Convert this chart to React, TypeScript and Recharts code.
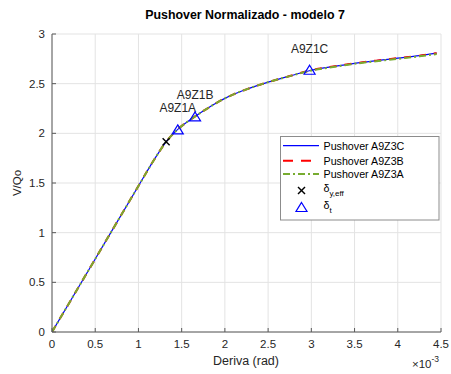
import React from 'react';
import { ComposedChart, Line, Scatter, XAxis, YAxis, CartesianGrid, Customized } from 'recharts';

// Drift (×10^-3 rad)
const drift = [0, 0.5, 1.0, 1.2, 1.32, 1.455, 1.655, 1.8, 1.9, 2.0, 2.1, 2.25, 2.5, 2.75, 3.0, 3.25, 3.5, 3.75, 4.0, 4.25, 4.45];
// V/Qo per model
const vA9Z3C = [0, 0.735, 1.47, 1.76, 1.915, 2.04, 2.17, 2.252, 2.305, 2.352, 2.393, 2.443, 2.515, 2.577, 2.635, 2.672, 2.705, 2.732, 2.757, 2.782, 2.807];
const vA9Z3B = [0, 0.735, 1.47, 1.76, 1.915, 2.04, 2.17, 2.252, 2.305, 2.352, 2.393, 2.443, 2.515, 2.577, 2.635, 2.672, 2.705, 2.732, 2.757, 2.782, 2.807];
const vA9Z3A = [0, 0.735, 1.47, 1.76, 1.915, 2.04, 2.17, 2.252, 2.305, 2.352, 2.393, 2.443, 2.515, 2.576, 2.632, 2.668, 2.700, 2.726, 2.750, 2.775, 2.798];

// Effective yield point
const yieldX = [1.32];
const yieldY = [1.915];
// Target displacement points
const targetLabels = ['A9Z1A', 'A9Z1B', 'A9Z1C'];
const targetX = [1.455, 1.655, 2.98];
const targetY = [2.04, 2.17, 2.64];

const xTicks = [0, 0.5, 1, 1.5, 2, 2.5, 3, 3.5, 4, 4.5];
const yTicks = [0, 0.5, 1, 1.5, 2, 2.5, 3];

const seriesC = drift.map((x, i) => ({ x, y: vA9Z3C[i] }));
const seriesB = drift.map((x, i) => ({ x, y: vA9Z3B[i] }));
const seriesA = drift.map((x, i) => ({ x, y: vA9Z3A[i] }));
const yieldData = yieldX.map((x, i) => ({ x, y: yieldY[i] }));
const targetData = targetX.map((x, i) => ({ x, y: targetY[i], label: targetLabels[i] }));

const FONT = '"Liberation Sans", Arial, Helvetica, sans-serif';
const TXT = '#262626';
const GREEN = '#77AC30';
const DASH_GREEN = '7 3 2 3';
const DASH_RED = '7 8';

const Cross = (props: any) => {
  const { cx, cy } = props;
  if (cx == null || cy == null) return null;
  const s = 3.5;
  return (
    <g>
      <line x1={cx - s} y1={cy - s} x2={cx + s} y2={cy + s} stroke="#000" strokeWidth={1.4} />
      <line x1={cx - s} y1={cy + s} x2={cx + s} y2={cy - s} stroke="#000" strokeWidth={1.4} />
    </g>
  );
};

const Tri = (props: any) => {
  const { cx, cy, payload } = props;
  if (cx == null || cy == null) return null;
  const w = 5.5;
  const h = 4.5;
  return (
    <g>
      <polygon
        points={`${cx},${cy - h} ${cx + w},${cy + h} ${cx - w},${cy + h}`}
        fill="none"
        stroke="#0000FF"
        strokeWidth={1.2}
      />
      <text x={cx} y={cy - 21} textAnchor="middle" dominantBaseline="central" fontSize={12} fontFamily={FONT} fill={TXT}>
        {payload?.label}
      </text>
    </g>
  );
};

const Decorations = () => {
  const lx = 280.5;
  const ly = 136.5;
  const sx1 = 283;
  const sx2 = 319;
  const tx = 323.5;
  const rows = [145.7, 160.7, 174];
  return (
    <g fontFamily={FONT}>
      <text x={245} y={15} textAnchor="middle" dominantBaseline="central" fontSize={12.4} fontWeight="bold" fill="#000">
        Pushover Normalizado - modelo 7
      </text>
      <text x={246} y={361} textAnchor="middle" dominantBaseline="central" fontSize={12.5} fill={TXT}>
        Deriva (rad)
      </text>
      <text
        x={17}
        y={183}
        textAnchor="middle"
        dominantBaseline="central"
        fontSize={11.5}
        fill={TXT}
        transform="rotate(-90 17 183)"
      >
        V/Qo
      </text>
      <text x={412} y={368} fontSize={11.5} fill={TXT}>
        ×10<tspan dy={-6} fontSize={8.5}>-3</tspan>
      </text>
      {/* legend */}
      <rect x={lx} y={ly} width={158.5} height={83.5} fill="#fff" stroke="#8c8c8c" strokeWidth={1} />
      <line x1={sx1} y1={rows[0]} x2={sx2} y2={rows[0]} stroke="#0000FF" strokeWidth={1.2} />
      <line x1={sx1} y1={rows[1]} x2={sx2} y2={rows[1]} stroke="#FF0000" strokeWidth={2} strokeDasharray="10 8" />
      <line x1={sx1} y1={rows[2]} x2={sx2} y2={rows[2]} stroke={GREEN} strokeWidth={2} strokeDasharray={DASH_GREEN} />
      <text x={tx} y={rows[0]} dominantBaseline="central" fontSize={10.7} fill="#000">Pushover A9Z3C</text>
      <text x={tx} y={rows[1]} dominantBaseline="central" fontSize={10.7} fill="#000">Pushover A9Z3B</text>
      <text x={tx} y={rows[2]} dominantBaseline="central" fontSize={10.7} fill="#000">Pushover A9Z3A</text>
      <Cross cx={301.5} cy={190.5} />
      <text x={tx} y={188} dominantBaseline="central" fontSize={10.7} fill="#000">
        δ<tspan dy={5} fontSize={8}>y,eff</tspan>
      </text>
      <polygon points="301.5,202.5 307,211.5 296,211.5" fill="none" stroke="#0000FF" strokeWidth={1.2} />
      <text x={tx} y={205} dominantBaseline="central" fontSize={10.7} fill="#000">
        δ<tspan dy={5} fontSize={8}>t</tspan>
      </text>
    </g>
  );
};

export default function App() {
  return (
    <div style={{ position: 'absolute', left: 0, top: 0, width: 451, height: 374, background: '#fff' }}>
      <ComposedChart width={451} height={374} margin={{ top: 34, right: 10, bottom: 12, left: 12 }}>
        <CartesianGrid stroke="#e3e3e3" strokeWidth={1} />
        <XAxis
          type="number"
          dataKey="x"
          domain={[0, 4.5]}
          ticks={xTicks}
          interval={0}
          height={30}
          tickSize={-4}
          tickMargin={12}
          axisLine={{ stroke: '#5a5a5a' }}
          tickLine={{ stroke: '#5a5a5a' }}
          tick={{ fontSize: 11.5, fill: TXT, fontFamily: FONT }}
          allowDataOverflow
        />
        <YAxis
          type="number"
          dataKey="y"
          domain={[0, 3]}
          ticks={yTicks}
          interval={0}
          width={40}
          tickSize={-4}
          tickMargin={11}
          axisLine={{ stroke: '#5a5a5a' }}
          tickLine={{ stroke: '#5a5a5a' }}
          tick={{ fontSize: 11.5, fill: TXT, fontFamily: FONT }}
          allowDataOverflow
        />
        <Line data={seriesC} dataKey="y" type="monotone" stroke="#0000FF" strokeWidth={1.2} dot={false} isAnimationActive={false} />
        <Line data={seriesB} dataKey="y" type="monotone" stroke="#FF0000" strokeWidth={2} strokeDasharray={DASH_RED} dot={false} isAnimationActive={false} />
        <Line data={seriesA} dataKey="y" type="monotone" stroke={GREEN} strokeWidth={2} strokeDasharray={DASH_GREEN} dot={false} isAnimationActive={false} />
        <Scatter data={yieldData} dataKey="y" shape={<Cross />} isAnimationActive={false} />
        <Scatter data={targetData} dataKey="y" shape={<Tri />} isAnimationActive={false} />
        <Customized component={<Decorations />} />
      </ComposedChart>
    </div>
  );
}
